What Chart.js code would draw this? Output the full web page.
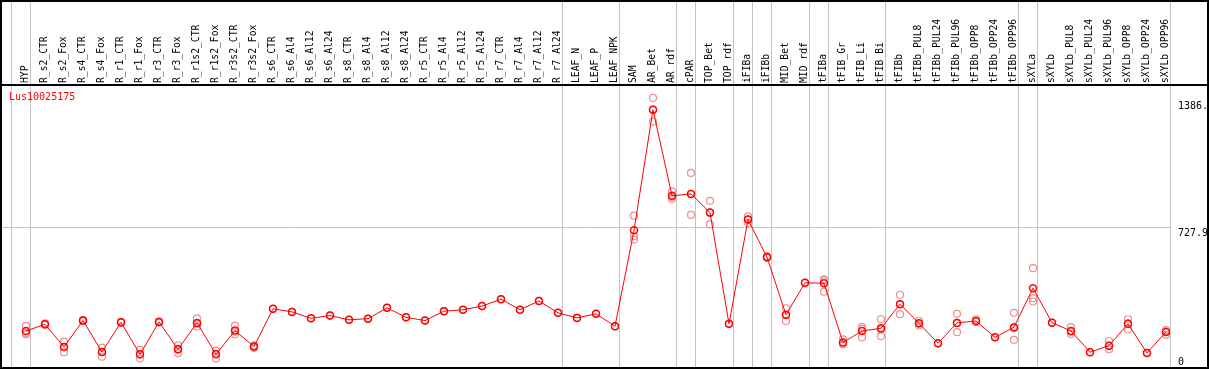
<!DOCTYPE html>
<html lang="en">
<head>
<meta charset="utf-8">
<script src="https://cdn.jsdelivr.net/npm/chart.js@4.4.1/dist/chart.umd.min.js"></script>
<style>
  body { margin: 0; background: #fff; }
  #wrap { width: 1209px; height: 370px; }
</style>
</head>
<body>
<div id="wrap"><canvas id="expr-chart" width="1209" height="370"></canvas></div>
<script>
  var geneName = 'Lus10025175';

  var samples = ['HYP', 'R_s2_CTR', 'R_s2_Fox', 'R_s4_CTR', 'R_s4_Fox', 'R_r1_CTR', 'R_r1_Fox',
    'R_r3_CTR', 'R_r3_Fox', 'R_r1s2_CTR', 'R_r1s2_Fox', 'R_r3s2_CTR', 'R_r3s2_Fox',
    'R_s6_CTR', 'R_s6_Al4', 'R_s6_Al12', 'R_s6_Al24', 'R_s8_CTR', 'R_s8_Al4', 'R_s8_Al12', 'R_s8_Al24',
    'R_r5_CTR', 'R_r5_Al4', 'R_r5_Al12', 'R_r5_Al24', 'R_r7_CTR', 'R_r7_Al4', 'R_r7_Al12', 'R_r7_Al24',
    'LEAF_N', 'LEAF_P', 'LEAF_NPK', 'SAM', 'AR_Bet', 'AR_rdf', 'cPAR', 'TOP_Bet', 'TOP_rdf',
    'iFIBa', 'iFIBb', 'MID_Bet', 'MID_rdf', 'tFIBa', 'tFIB_Gr', 'tFIB_Li', 'tFIB_Bi', 'tFIBb',
    'tFIBb_PUL8', 'tFIBb_PUL24', 'tFIBb_PUL96', 'tFIBb_OPP8', 'tFIBb_OPP24', 'tFIBb_OPP96',
    'sXYLa', 'sXYLb', 'sXYLb_PUL8', 'sXYLb_PUL24', 'sXYLb_PUL96', 'sXYLb_OPP8', 'sXYLb_OPP24', 'sXYLb_OPP96'];

  var means = [192, 227, 109, 246, 83, 237, 71, 239, 97, 234, 71, 194, 111,
    307, 291, 258, 272, 250, 256, 312, 263,
    246, 295, 302, 321, 357, 302, 348, 286,
    260, 281, 217, 714, 1340, 893, 903, 806, 229,
    770, 575, 276, 442, 440, 132, 192, 206, 331,
    232, 128, 234, 244, 159, 212,
    414, 235, 192, 82, 116, 229, 78, 187];

  var replicates = [[218, 182, 175], [232, 224, 225], [137, 109, 82], [250, 243, 245], [106, 83, 59],
    [240, 235, 236], [95, 70, 49], [242, 237, 238], [118, 97, 76], [257, 230, 215], [90, 74, 49],
    [220, 188, 175], [118, 111, 104],
    [307], [291], [258], [272], [250], [256], [312], [263],
    [246], [295], [302], [321], [357], [302], [348], [286],
    [260], [281], [217], [790, 683, 666], [1401, 1278, 1340], [916, 887, 877], [1012, 903, 794],
    [867, 806, 745], [229],
    [787, 770, 752], [580, 572, 573], [310, 274, 244], [442], [460, 452, 396], [149, 125, 123],
    [214, 204, 159], [253, 200, 165], [380, 332, 279],
    [245, 230, 221], [128], [281, 234, 186], [253, 240, 239], [159], [286, 206, 146],
    [518, 362, 345], [235], [212, 188, 177], [82], [140, 116, 97], [253, 232, 201], [78], [197, 190, 172]];

  // first sample of each group (62 = end of the last group)
  var groupStarts = [1, 2, 30, 33, 36, 37, 39, 40, 41, 43, 44, 47, 54, 55, 62];

  var yTickValues = [0, 727.9, 1386.5];
  var yTickLabels = ['0', '727.9', '1386.5'];
  var yMax = 1468;

  Chart.defaults.font.family = "'DejaVu Sans Mono', monospace";
  Chart.defaults.font.size = 9.7;
  Chart.defaults.color = '#000';

  var meanPoints = means.map(function(v, i) { return {x: i + 1, y: v}; });
  var repPoints = [];
  replicates.forEach(function(list, i) {
    list.forEach(function(v) { repPoints.push({x: i + 1, y: v}); });
  });

  // frame, group separators and gene name
  var decor = {
    id: 'decor',
    beforeDatasetsDraw: function(chart) {
      var ctx = chart.ctx, x = chart.scales.x, area = chart.chartArea;
      ctx.save();
      ctx.strokeStyle = '#c4c4c4';
      ctx.lineWidth = 1;
      groupStarts.forEach(function(g) {
        var px = Math.round(x.getPixelForValue(g - 15 / 19)) + 0.5;
        ctx.beginPath();
        ctx.moveTo(px, 0);
        ctx.lineTo(px, area.bottom);
        ctx.stroke();
      });
      ctx.fillStyle = '#ff0000';
      ctx.font = "10px 'DejaVu Sans Mono', monospace";
      ctx.textBaseline = 'top';
      ctx.fillText(geneName, area.left + 8, area.top + 7);
      ctx.restore();
    },
    afterDraw: function(chart) {
      var ctx = chart.ctx, area = chart.chartArea, w = chart.width;
      ctx.save();
      ctx.fillStyle = '#000';
      ctx.fillRect(0, 0, w, 2);
      ctx.fillRect(0, area.top - 1, w, 2);
      ctx.fillRect(0, area.bottom - 1, w, 2);
      ctx.fillRect(0, 0, 2, area.bottom);
      ctx.fillRect(w - 2, 0, 2, area.bottom);
      ctx.restore();
    }
  };

  new Chart(document.getElementById('expr-chart'), {
    data: {
      datasets: [{
        type: 'line',
        data: meanPoints,
        borderColor: '#ff0000',
        borderWidth: 1,
        pointRadius: 3.5,
        pointBorderWidth: 1.5,
        pointBorderColor: '#ff0000',
        pointBackgroundColor: 'rgba(0,0,0,0)',
        order: 0
      }, {
        type: 'scatter',
        data: repPoints,
        pointRadius: 3.5,
        borderWidth: 1.2,
        borderColor: '#ea9090',
        backgroundColor: 'rgba(0,0,0,0)',
        order: 1
      }]
    },
    plugins: [decor],
    options: {
      responsive: false,
      animation: false,
      layout: { autoPadding: false, padding: { left: 1, top: 0, right: 0, bottom: 2 } },
      plugins: { legend: { display: false }, tooltip: { enabled: false } },
      scales: {
        x: {
          type: 'linear',
          position: 'top',
          bounds: 'data',
          min: 1 - 25 / 19,
          max: 61 + 4 / 19,
          grid: { display: false, drawTicks: false },
          border: { display: false },
          afterBuildTicks: function(scale) {
            scale.ticks = samples.map(function(s, i) { return {value: i + 1}; });
          },
          afterFit: function(scale) {
            scale.height = 85;
            scale.paddingLeft = 0;
            scale.paddingRight = 0;
          },
          ticks: {
            autoSkip: false,
            minRotation: 90,
            maxRotation: 90,
            padding: 2,
            labelOffset: 11,
            callback: function(v) { return samples[Math.round(v) - 1] || ''; }
          }
        },
        y: {
          position: 'right',
          min: 0,
          max: yMax,
          border: { display: false },
          grid: {
            drawTicks: false,
            color: function(c) { return c.tick && c.tick.value === yTickValues[1] ? '#c4c4c4' : 'rgba(0,0,0,0)'; }
          },
          afterBuildTicks: function(scale) {
            scale.ticks = yTickValues.map(function(v) { return {value: v}; });
          },
          afterFit: function(scale) {
            scale.width = 39;
            scale.paddingTop = 0;
            scale.paddingBottom = 0;
          },
          ticks: {
            padding: 8,
            font: { size: 10 },
            // label sits under its line, except the bottom one which sits above
            callback: function(v) {
              var s = yTickLabels[yTickValues.indexOf(v)];
              return v === 0 ? [s, ''] : ['', s];
            }
          }
        }
      }
    }
  });
</script>
</body>
</html>
